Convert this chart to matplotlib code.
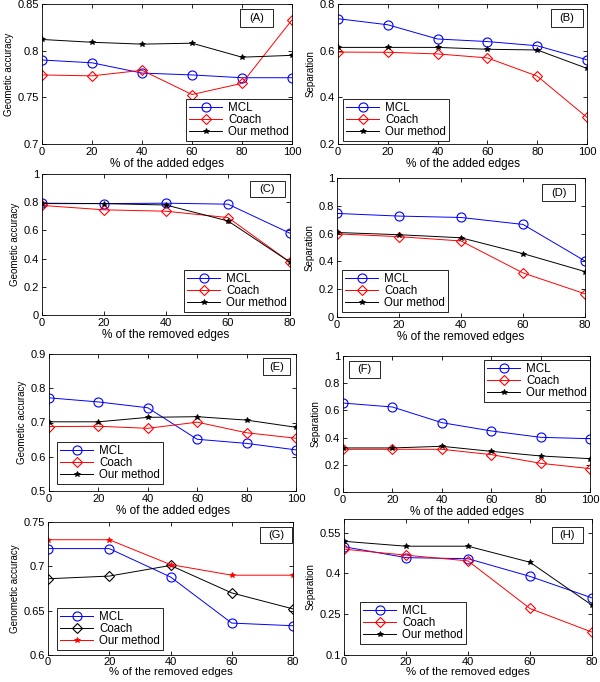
"""Eight-panel robustness comparison: MCL vs Coach vs our method."""

import matplotlib

matplotlib.use("Agg")
import matplotlib.pyplot as plt
from matplotlib.patches import Rectangle
from matplotlib.ticker import FormatStrFormatter

plt.rcParams["font.family"] = ["Liberation Sans", "DejaVu Sans"]

W, H = 600, 682

added = [0, 20, 40, 60, 80, 100]
removed = [0, 20, 40, 60, 80]

# (A) geometric accuracy, added edges
a_mcl = [0.790, 0.787, 0.776, 0.774, 0.771, 0.771]
a_coach = [0.774, 0.773, 0.779, 0.753, 0.765, 0.833]
a_ours = [0.812, 0.809, 0.807, 0.808, 0.793, 0.795]
# (B) separation, added edges
b_mcl = [0.737, 0.711, 0.650, 0.639, 0.621, 0.561]
b_coach = [0.594, 0.593, 0.586, 0.569, 0.491, 0.314]
b_ours = [0.614, 0.614, 0.614, 0.606, 0.603, 0.524]
# (C) geometric accuracy, removed edges
c_mcl = [0.793, 0.790, 0.793, 0.786, 0.580]
c_coach = [0.777, 0.746, 0.736, 0.691, 0.375]
c_ours = [0.790, 0.790, 0.780, 0.667, 0.375]
# (D) separation, removed edges
d_mcl = [0.745, 0.726, 0.716, 0.666, 0.403]
d_coach = [0.598, 0.578, 0.547, 0.317, 0.167]
d_ours = [0.608, 0.592, 0.570, 0.456, 0.327]
# (E) geometric accuracy, added edges
e_mcl = [0.772, 0.760, 0.743, 0.651, 0.639, 0.620]
e_coach = [0.688, 0.689, 0.683, 0.701, 0.670, 0.654]
e_ours = [0.702, 0.702, 0.715, 0.717, 0.707, 0.686]
# (F) separation, added edges
f_mcl = [0.654, 0.625, 0.510, 0.449, 0.402, 0.392]
f_coach = [0.314, 0.314, 0.314, 0.275, 0.211, 0.172]
f_ours = [0.324, 0.324, 0.336, 0.299, 0.265, 0.245]
# (G) genometic accuracy, removed edges
g_mcl = [0.720, 0.720, 0.688, 0.636, 0.633]
g_coach = [0.686, 0.689, 0.701, 0.670, 0.652]
g_ours = [0.730, 0.730, 0.702, 0.690, 0.690]
# (H) separation, removed edges
h_mcl = [0.498, 0.458, 0.454, 0.389, 0.310]
h_coach = [0.489, 0.467, 0.446, 0.271, 0.184]
h_ours = [0.518, 0.500, 0.500, 0.441, 0.283]

ADDED = "% of the added edges"
REMOVED = "% of the removed edges"
GEO = "Geometic accuracy"
SEP = "Separation"

panels = [
    # tag, rect(l,t,r,b px), x, series, ylim, yticks, xlabel, ylabel, legend(loc, px), tag box (l,t,r,b px), colours
    ("(A)", (42, 4, 292, 144), added, (a_mcl, a_coach, a_ours), (0.7, 0.85),
     [0.7, 0.75, 0.8, 0.85], ADDED, GEO, ("lower right", (292, 141)), (240, 9, 273, 27), "std"),
    ("(B)", (338, 4, 587, 144), added, (b_mcl, b_coach, b_ours), (0.2, 0.8),
     [0.2, 0.4, 0.6, 0.8], ADDED, SEP, ("lower left", (343, 141)), (551, 9, 583, 27), "std"),
    ("(C)", (42, 174, 290, 315), removed, (c_mcl, c_coach, c_ours), (0, 1),
     [0, 0.2, 0.4, 0.6, 0.8, 1], REMOVED, GEO, ("lower right", (290, 312)), (250, 181, 285, 197), "std"),
    ("(D)", (337, 178, 585, 317), removed, (d_mcl, d_coach, d_ours), (0, 1),
     [0, 0.2, 0.4, 0.6, 0.8, 1], REMOVED, SEP, ("lower left", (342, 312)), (542, 184, 575, 201), "std"),
    ("(E)", (49, 354, 296, 491), added, (e_mcl, e_coach, e_ours), (0.5, 0.9),
     [0.5, 0.6, 0.7, 0.8, 0.9], ADDED, GEO, ("lower left", (57, 484)), (263, 358, 290, 375), "std"),
    ("(F)", (343, 356, 590, 492), added, (f_mcl, f_coach, f_ours), (0, 1),
     [0, 0.2, 0.4, 0.6, 0.8, 1], ADDED, SEP, ("upper right", (590, 360)), (349, 361, 380, 378), "std"),
    ("(G)", (48, 522, 293, 655), removed, (g_mcl, g_coach, g_ours), (0.6, 0.75),
     [0.6, 0.65, 0.7, 0.75], REMOVED, "Genometic accuracy", ("lower left", (57, 650)), (260, 527, 292, 543), "swap"),
    ("(H)", (344, 519, 592, 655), removed, (h_mcl, h_coach, h_ours), (0.1, 0.6),
     [0.1, 0.25, 0.4, 0.55], REMOVED, SEP, ("lower left", (360, 644)), (552, 527, 583, 543), "std"),
]

fig = plt.figure(figsize=(W / 100, H / 100), dpi=100)

for tag, (l, t, r, b), xs, (mcl, coach, ours), ylim, yticks, xlabel, ylabel, (loc, anchor), box, scheme in panels:
    ax = fig.add_axes([l / W, 1 - b / H, (r - l) / W, (b - t) / H])
    coach_color = "k" if scheme == "swap" else "r"
    ours_color = "r" if scheme == "swap" else "k"
    ax.plot(xs, mcl, color="b", marker="o", markersize=6.5, markerfacecolor="none",
            markeredgewidth=0.8, linewidth=0.7, label="MCL")
    ax.plot(xs, coach, color=coach_color, marker="D", markersize=5.5, markerfacecolor="none",
            markeredgewidth=0.8, linewidth=0.7, label="Coach")
    ax.plot(xs, ours, color=ours_color, marker="*", markersize=3.8,
            markeredgewidth=0.6, linewidth=0.7, label="Our method")
    ax.set_xlim(xs[0], xs[-1])
    ax.set_xticks(xs)
    ax.set_ylim(*ylim)
    ax.set_yticks(yticks)
    ax.yaxis.set_major_formatter(FormatStrFormatter("%g"))
    # the bottom row sits against the figure edge, so keep its labels tight
    bottom_row = b > 600
    ax.tick_params(direction="in", top=True, right=True, length=3, width=0.6,
                   labelsize=8, pad=2)
    if bottom_row:
        ax.tick_params(axis="x", pad=1.2)
    for spine in ax.spines.values():
        spine.set_linewidth(0.6)
    ax.set_xlabel(xlabel, fontsize=8.2 if bottom_row else 8.5,
                  labelpad=0 if bottom_row else 1)
    ax.set_ylabel(ylabel, fontsize=7, labelpad=3)
    leg = ax.legend(loc=loc, bbox_to_anchor=(anchor[0] / W, 1 - anchor[1] / H),
                    bbox_transform=fig.transFigure, borderaxespad=0, fontsize=8.3,
                    handlelength=2.9, labelspacing=0.0, borderpad=0.25, handletextpad=0.5,
                    fancybox=False, edgecolor="k", framealpha=1)
    leg.get_frame().set_linewidth(0.6)
    bl, bt, br, bb = box
    fig.add_artist(Rectangle((bl / W, 1 - bb / H), (br - bl) / W, (bb - bt) / H,
                             transform=fig.transFigure, facecolor="white",
                             edgecolor="k", linewidth=0.6))
    fig.text((bl + br) / 2 / W, 1 - (bt + bb) / 2 / H, tag, fontsize=8,
             ha="center", va="center")

fig.savefig("out.png", dpi=100)
